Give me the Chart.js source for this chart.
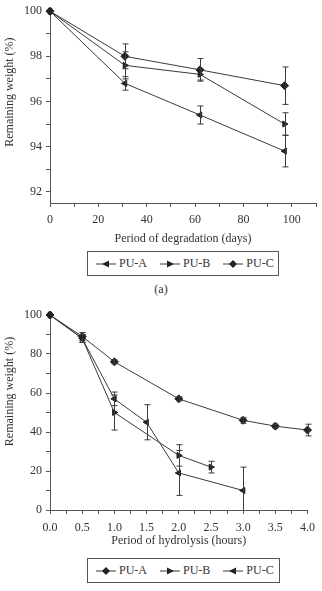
<!DOCTYPE html>
<html>
<head>
<meta charset="utf-8">
<script src="https://cdn.jsdelivr.net/npm/chart.js@4"></script>
<style>
  body { margin: 0; background: #fff; width: 322px; height: 591px; position: relative; overflow: hidden;
         font-family: "Liberation Serif", "DejaVu Serif", serif; color: #333; }
  canvas { position: absolute; left: 0; }
  #c1 { top: 0; }
  #c2 { top: 300px; }
  .legend { position: absolute; left: 87px; width: 190px; height: 25px; border: 1px solid #555;
            display: flex; align-items: center; padding-left: 8px; box-sizing: border-box; font-size: 12px;
            white-space: nowrap; }
  .legend .item { display: flex; align-items: center; margin-right: 13px; flex: none; }
  .legend svg { width: 20px; height: 10px; margin-right: 3px; flex: none; }
  #leg1 { top: 251px; width: 192px; }
  #leg2 { top: 558px; width: 193px; }
  #cap { position: absolute; top: 282px; left: 0; width: 322px; text-align: center; font-size: 12px; }
</style>
</head>
<body>
<canvas id="c1" width="322" height="246"></canvas>
<canvas id="c2" width="322" height="248"></canvas>
<div class="legend" id="leg1"></div>
<div id="cap">(a)</div>
<div class="legend" id="leg2"></div>
<script>
// (a) degradation, days
const days = [0, 31, 62, 97];
const degA = [100, 96.8, 95.4, 93.8];
const degAErr = [0, 0.3, 0.4, 0.7];
const degB = [100, 97.6, 97.2, 95.0];
const degBErr = [0, 0.6, 0.25, 0.5];
const degC = [100, 98.0, 97.4, 96.7];
const degCErr = [0, 0.55, 0.5, 0.83];

// (b) hydrolysis, hours
const hoursA = [0, 0.5, 1.0, 2.0, 3.0, 3.5, 4.0];
const hydA = [100, 89, 76, 57, 46, 43, 41];
const hydAErr = [0, 2, 1, 1, 1.5, 1, 3];
const hoursB = [0, 0.5, 1.0, 2.0, 2.5];
const hydB = [100, 88, 50, 28, 22];
const hydBErr = [0, 2, 9, 5.5, 3];
const hoursC = [0, 0.5, 1.0, 1.5, 2.0, 3.0];
const hydC = [100, 88, 57, 45, 19, 10];
const hydCErr = [0, 2, 3.5, 9, 11.5, 12];

const INK = "#333";
const AXIS = "#555";
const FONT = { family: "Liberation Serif", size: 12 };

const markers = {
  left: { pointStyle: "triangle", rotation: -90, radius: 3.5 },
  right: { pointStyle: "triangle", rotation: 90, radius: 3.5 },
  diamond: { pointStyle: "rectRot", rotation: 0, radius: 4 },
};

function series(label, xs, ys, err, mk) {
  const m = markers[mk];
  return {
    label,
    data: xs.map((x, i) => ({ x, y: ys[i] })),
    err,
    borderColor: "#3a3a3a",
    borderWidth: 1,
    pointStyle: m.pointStyle,
    rotation: m.rotation,
    pointRadius: m.radius,
    pointBackgroundColor: "#222",
    pointBorderColor: "#222",
    pointBorderWidth: 1,
    tension: 0,
    clip: false,
  };
}

// vertical error bars with caps; a bar running past the axis stops at it
const errorBars = {
  id: "errorBars",
  afterDatasetsDraw(chart) {
    const { ctx, chartArea, scales: { x, y } } = chart;
    ctx.save();
    ctx.strokeStyle = "#3a3a3a";
    ctx.lineWidth = 1;
    chart.data.datasets.forEach((ds) => {
      ds.data.forEach((p, i) => {
        const e = ds.err[i];
        if (!e) return;
        const px = Math.round(x.getPixelForValue(p.x)) + 0.5;
        const y1 = y.getPixelForValue(p.y + e);
        const rawY2 = y.getPixelForValue(p.y - e);
        const y2 = Math.min(rawY2, chartArea.bottom);
        ctx.beginPath();
        ctx.moveTo(px, y1); ctx.lineTo(px, y2);
        ctx.moveTo(px - 3, y1); ctx.lineTo(px + 3, y1);
        if (rawY2 <= chartArea.bottom) { ctx.moveTo(px - 3, y2); ctx.lineTo(px + 3, y2); }
        ctx.stroke();
      });
    });
    ctx.restore();
  },
};

const yTitle = {
  id: "yTitle",
  afterDraw(chart, args, opts) {
    const { ctx, chartArea } = chart;
    ctx.save();
    ctx.fillStyle = INK;
    ctx.font = `${FONT.size}px ${FONT.family}`;
    ctx.textAlign = "center";
    ctx.textBaseline = "middle";
    ctx.translate(10, (chartArea.top + chartArea.bottom) / 2 - opts.shift);
    ctx.rotate(-Math.PI / 2);
    ctx.fillText(opts.text, 0, 0);
    ctx.restore();
  },
};

// evenly stepped ticks starting at the first multiple of step above min
const stepTicks = (step) => (s) => {
  const out = [];
  for (let k = Math.ceil(s.min / step - 1e-9); k * step <= s.max + 1e-9; k++) out.push({ value: +(k * step).toFixed(6) });
  s.ticks = out;
};

function makeChart(id, datasets, cfg) {
  return new Chart(document.getElementById(id), {
    type: "line",
    data: { datasets },
    plugins: [errorBars, yTitle],
    options: {
      responsive: false,
      animation: false,
      layout: { padding: { top: cfg.top, right: cfg.right, left: 0, bottom: 0 } },
      plugins: {
        legend: { display: false },
        tooltip: { enabled: false },
        yTitle: { text: "Remaining weight (%)", shift: cfg.titleShift },
      },
      scales: {
        x: {
          type: "linear",
          min: cfg.xMin, max: cfg.xMax,
          afterFit: (s) => { s.height = cfg.xHeight; },
          afterBuildTicks: stepTicks(cfg.xStep),
          border: { color: AXIS },
          grid: { drawOnChartArea: false, tickLength: 4, color: AXIS },
          ticks: { autoSkip: false, maxRotation: 0, color: INK, font: FONT,
                   padding: cfg.xPad, callback: cfg.xLabel },
          title: { display: true, text: cfg.xTitle, color: INK, font: FONT, padding: 0 },
        },
        y: {
          min: cfg.yMin, max: cfg.yMax,
          afterFit: (s) => { s.width = 50; },
          afterBuildTicks: stepTicks(cfg.yStep),
          border: { color: AXIS },
          grid: { drawOnChartArea: false, tickLength: 4, color: AXIS },
          ticks: { autoSkip: false, color: INK, font: FONT, padding: 4, callback: cfg.yLabel },
        },
      },
    },
  });
}

const isMul = (v, m) => Math.abs(v / m - Math.round(v / m)) < 1e-6;

makeChart("c1", [
  series("PU-A", days, degA, degAErr, "left"),
  series("PU-B", days, degB, degBErr, "right"),
  series("PU-C", days, degC, degCErr, "diamond"),
], {
  top: 6, right: 6, xMin: 0, xMax: 110, xStep: 10, xHeight: 43, xPad: 6, titleShift: 15,
  xTitle: "Period of degradation (days)",
  xLabel: (v) => (isMul(v, 20) && v <= 100 ? String(v) : ""),
  yMin: 91.5, yMax: 100, yStep: 1,
  yLabel: (v) => (isMul(v, 2) ? String(v) : ""),
});

makeChart("c2", [
  series("PU-A", hoursA, hydA, hydAErr, "diamond"),
  series("PU-B", hoursB, hydB, hydBErr, "right"),
  series("PU-C", hoursC, hydC, hydCErr, "left"),
], {
  top: 15, right: 10, xMin: 0, xMax: 4, xStep: 0.25, xHeight: 38, xPad: 7, titleShift: 21,
  xTitle: "Period of hydrolysis (hours)",
  xLabel: (v) => (isMul(v, 0.5) ? v.toFixed(1) : ""),
  yMin: 0, yMax: 100, yStep: 10,
  yLabel: (v) => (isMul(v, 20) ? String(v) : ""),
});

const glyph = {
  left: '<polygon points="6,5 13,1.5 13,8.5" fill="#222"/>',
  right: '<polygon points="14,5 7,1.5 7,8.5" fill="#222"/>',
  diamond: '<polygon points="10,1 14,5 10,9 6,5" fill="#222"/>',
};
function legend(id, items) {
  document.getElementById(id).innerHTML = items.map(([name, mk]) =>
    `<span class="item"><svg viewBox="0 0 20 10"><line x1="0" y1="5" x2="20" y2="5" stroke="#3a3a3a" stroke-width="1"/>${glyph[mk]}</svg>${name}</span>`
  ).join("");
}
legend("leg1", [["PU-A", "left"], ["PU-B", "right"], ["PU-C", "diamond"]]);
legend("leg2", [["PU-A", "diamond"], ["PU-B", "right"], ["PU-C", "left"]]);
</script>
</body>
</html>
